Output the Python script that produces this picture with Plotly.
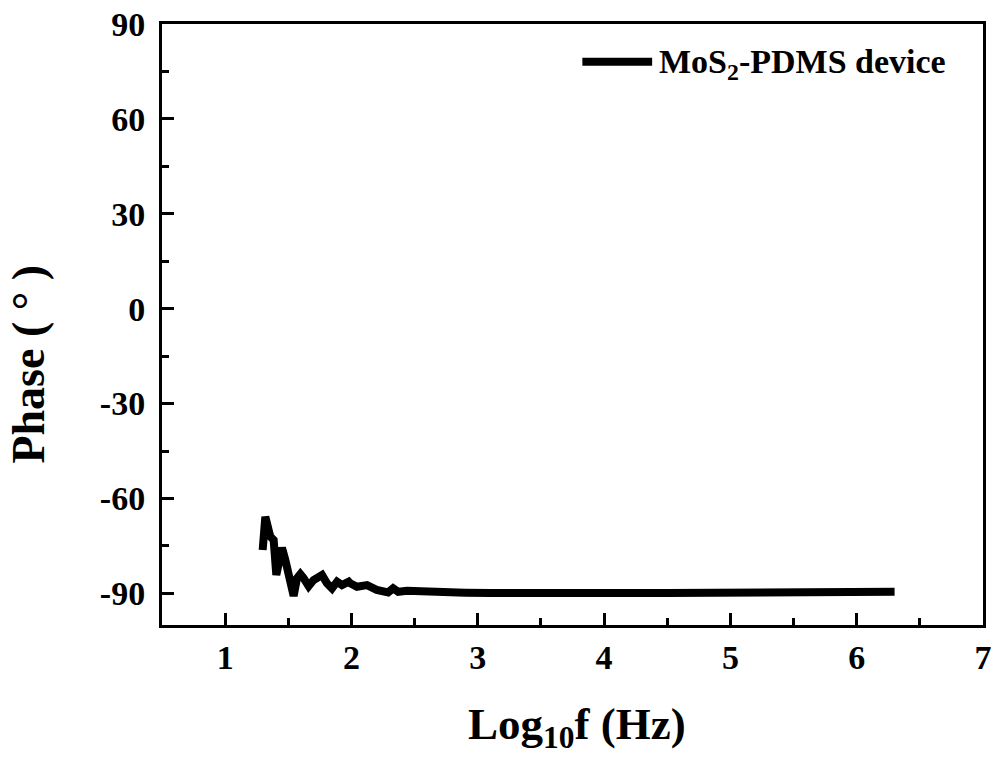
import plotly.graph_objects as go

# Bode phase of the MoS2-PDMS device versus log10 of frequency
log_f = [1.297, 1.318, 1.357, 1.384, 1.405, 1.437, 1.450, 1.476, 1.494, 1.516,
         1.542, 1.569, 1.595, 1.621, 1.661, 1.700, 1.740, 1.767, 1.806, 1.846,
         1.886, 1.925, 1.978, 1.990, 2.044, 2.123, 2.200, 2.290, 2.330, 2.370,
         2.440, 2.570, 2.700, 2.900, 3.100, 3.300, 3.500, 3.700, 3.900, 4.100,
         4.300, 4.500, 4.700, 4.900, 5.100, 5.300, 5.500, 5.700, 5.900, 6.100,
         6.300]
phase = [-76.3, -65.8, -72.0, -73.1, -84.2, -76.3, -75.6, -79.4, -83.0, -85.8,
         -90.8, -85.2, -83.9, -85.2, -87.7, -85.8, -85.2, -84.2, -86.8, -88.4,
         -86.3, -87.4, -86.3, -86.8, -87.9, -87.4, -88.9, -89.7, -88.4, -89.5,
         -89.2, -89.5, -89.8, -89.8, -89.9, -90.0, -90.0, -90.0, -90.0, -89.9,
         -89.9, -89.9, -89.8, -89.8, -89.7, -89.7, -89.7, -89.6, -89.6, -89.5,
         -89.5]

x_ticks = [1, 2, 3, 4, 5, 6, 7]
x_tick_text = ["1", "2", "3", "4", "5", "6", "7"]
y_ticks = [-90, -60, -30, 0, 30, 60, 90]
y_tick_text = ["-90", "-60", "-30", "0", "30", "60", "90"]
series_name = "MoS<sub>2</sub>-PDMS device"

FONT = "Liberation Serif"

fig = go.Figure()
fig.add_trace(go.Scatter(
    x=log_f, y=phase, mode="lines",
    line=dict(color="black", width=8),
    name=series_name, showlegend=False,
))

axis_common = dict(
    showline=True, linecolor="black", linewidth=3, mirror=True,
    ticks="inside", tickcolor="black", tickwidth=3, ticklen=12,
    showgrid=False, zeroline=False, automargin=False,
    tickfont=dict(family=FONT, size=34, color="black", weight="bold"),
)

fig.update_xaxes(
    range=[0.5, 7], tickvals=x_ticks, ticktext=x_tick_text, ticklabelstandoff=0,
    minor=dict(ticks="inside", dtick=0.5, ticklen=7, tickwidth=3, tickcolor="black"),
    **axis_common,
)
fig.update_yaxes(
    range=[-100, 90], tickvals=y_ticks, ticktext=y_tick_text, ticklabelstandoff=7,
    minor=dict(ticks="inside", dtick=15, ticklen=7, tickwidth=3, tickcolor="black"),
    **axis_common,
)

# Axis titles
fig.add_annotation(
    text="<b>Log<sub>10</sub>f (Hz)</b>", xref="paper", yref="paper",
    x=0.505, y=-0.12, xanchor="center", yanchor="top", showarrow=False,
    font=dict(family=FONT, size=45, color="black"),
)
fig.add_annotation(
    text="<b>Phase ( ° )</b>", xref="paper", yref="paper",
    x=-0.162, y=0.435, xanchor="center", yanchor="middle", showarrow=False,
    textangle=-90, font=dict(family=FONT, size=46, color="black"),
)

# Legend entry: line swatch plus label
fig.add_shape(
    type="line", xref="paper", yref="paper",
    x0=0.512, x1=0.597, y0=0.937, y1=0.937,
    line=dict(color="black", width=8),
)
fig.add_annotation(
    text="<b>" + series_name + "</b>", xref="paper", yref="paper",
    x=0.603, y=0.934, xanchor="left", yanchor="middle", showarrow=False,
    font=dict(family=FONT, size=34, color="black"),
)

fig.update_layout(
    width=993, height=762,
    margin=dict(l=162, r=10, t=24, b=137),
    paper_bgcolor="white", plot_bgcolor="white",
)

fig.write_html("out.html")
